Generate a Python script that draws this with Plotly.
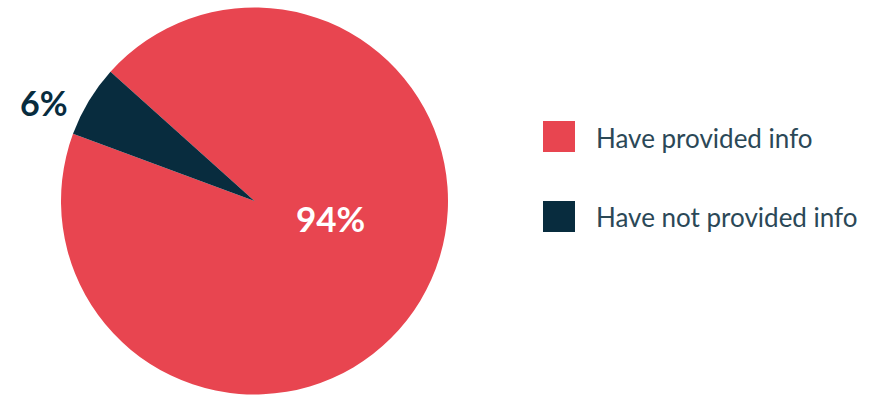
import plotly.graph_objects as go

# Share of respondents who have / have not provided information
categories = ["Have provided info", "Have not provided info"]
values = [94, 6]
colors = ["#E84550", "#082C3E"]

W, H = 881, 396

fig = go.Figure(
    go.Pie(
        labels=categories,
        values=values,
        marker=dict(colors=colors, line=dict(width=0)),
        sort=False,
        direction="clockwise",
        rotation=-48.1,
        textinfo="none",
        hoverinfo="label+percent",
        domain=dict(x=[61 / W, 448 / W], y=[1.5 / H, 388.5 / H]),
        showlegend=False,
    )
)

# Percentage labels, text built from the values
label_pos = [(330, 218, "white", 35), (44, 102, "#082C3E", 34)]
for v, (px, py, col, fs) in zip(values, label_pos):
    fig.add_annotation(
        x=px / W, y=1 - py / H, xref="paper", yref="paper",
        text=f"<b>{v}%</b>", showarrow=False,
        xanchor="center", yanchor="middle",
        font=dict(family="Lato", size=fs, color=col),
    )

# Custom legend with large square swatches
legend_rows = [136.5, 216.5]
for name, col, cy in zip(categories, colors, legend_rows):
    fig.add_shape(
        type="rect", xref="paper", yref="paper",
        x0=543 / W, x1=575 / W, y0=1 - (cy - 15.5) / H, y1=1 - (cy + 15.5) / H,
        fillcolor=col, line=dict(width=0),
    )
    fig.add_annotation(
        x=594 / W, y=1 - (cy + 1) / H, xref="paper", yref="paper",
        text=name, showarrow=False, xanchor="left", yanchor="middle",
        font=dict(family="Lato", size=26, color="#2B4857"),
    )

fig.update_layout(
    width=W, height=H,
    margin=dict(l=0, r=0, t=0, b=0),
    paper_bgcolor="white", plot_bgcolor="white",
)

fig.write_html("out.html")
